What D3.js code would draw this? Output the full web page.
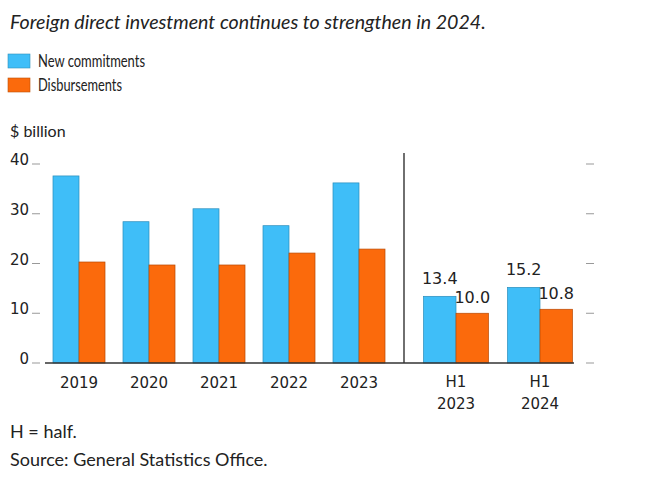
<!DOCTYPE html>
<html>
<head>
<meta charset="utf-8">
<style>
  html, body { margin: 0; padding: 0; background: #ffffff; }
  svg { display: block; font-family: Lato, "Open Sans", sans-serif; }
</style>
</head>
<body>
<div id="chart"></div>
<script src="https://cdn.jsdelivr.net/npm/d3@7"></script>
<script>
var width = 655, height = 492;

// data
var years = ["2019", "2020", "2021", "2022", "2023"];
var halves = ["H1 2023", "H1 2024"];
var commitYears = [37.6, 28.4, 31.0, 27.6, 36.2];
var disburseYears = [20.3, 19.7, 19.7, 22.1, 22.9];
var commitHalves = [13.4, 15.2];
var disburseHalves = [10.0, 10.8];
var yTicks = [0, 10, 20, 30, 40];

var blue = "#3fbef8", orange = "#fb6a0c";
var series = [
  {name: "New commitments", color: blue, len: 107},
  {name: "Disbursements", color: orange, len: 84}
];

var svg = d3.select("#chart").append("svg")
  .attr("width", width).attr("height", height);

var y = d3.scaleLinear().domain([0, 40]).range([363, 164]);

var xYear = d3.scaleBand().domain(years).range([44, 394])
  .paddingInner(0.257).paddingOuter(0.1285);
var xHalf = d3.scaleBand().domain(halves).range([413, 583])
  .paddingInner(0.226).paddingOuter(0.125);

// title
svg.append("text")
  .attr("x", 10).attr("y", 29)
  .style("font-style", "italic")
  .style("font-size", "19.6px")
  .attr("fill", "#222")
  .text("Foreign direct investment continues to strengthen in 2024.");

// legend
var leg = svg.append("g").selectAll("g").data(series).join("g")
  .attr("transform", (d, i) => "translate(8," + (54 + i * 24) + ")");
leg.append("rect").attr("width", 22).attr("height", 14)
  .attr("fill", d => d.color)
  .attr("stroke", d => d3.color(d.color).darker(0.8)).attr("stroke-width", 0.6);
leg.append("text").attr("x", 30).attr("y", 13)
  .style("font-size", "16.5px").attr("fill", "#222")
  .attr("textLength", d => d.len).attr("lengthAdjust", "spacingAndGlyphs")
  .text(d => d.name);

// unit label
svg.append("text").attr("x", 10).attr("y", 137)
  .style("font-size", "16px").attr("fill", "#222").text("$ billion");

// y ticks left and right
var tk = svg.append("g");
tk.selectAll("line.l").data(yTicks).join("line").attr("class", "l")
  .attr("x1", 32).attr("x2", 40)
  .attr("y1", d => y(d)).attr("y2", d => y(d))
  .attr("stroke", "#999").attr("stroke-width", 1);
tk.selectAll("line.r").data(yTicks).join("line").attr("class", "r")
  .attr("x1", 586).attr("x2", 594)
  .attr("y1", d => y(d)).attr("y2", d => y(d))
  .attr("stroke", "#999").attr("stroke-width", 1);
tk.selectAll("text").data(yTicks).join("text")
  .attr("x", 29).attr("y", d => y(d) + 1)
  .attr("text-anchor", "end")
  .style("font-family", "'DejaVu Sans', sans-serif")
  .style("font-size", "15px").attr("fill", "#222")
  .text(d => d);

function drawBars(x, cats, a, b) {
  var g = svg.append("g");
  var w = x.bandwidth() / 2;
  g.selectAll("rect.a").data(cats).join("rect").attr("class", "a")
    .attr("x", d => x(d)).attr("width", w)
    .attr("y", (d, i) => y(a[i])).attr("height", (d, i) => y(0) - y(a[i]))
    .attr("fill", blue).attr("stroke", "#2a8dbb").attr("stroke-width", 0.7);
  g.selectAll("rect.b").data(cats).join("rect").attr("class", "b")
    .attr("x", d => x(d) + w).attr("width", w)
    .attr("y", (d, i) => y(b[i])).attr("height", (d, i) => y(0) - y(b[i]))
    .attr("fill", orange).attr("stroke", "#b84a05").attr("stroke-width", 0.7);
  return g;
}

drawBars(xYear, years, commitYears, disburseYears);
var hg = drawBars(xHalf, halves, commitHalves, disburseHalves);

// value labels on the half-year bars
var hw = xHalf.bandwidth() / 2;
hg.selectAll("text.a").data(halves).join("text").attr("class", "a")
  .attr("x", d => xHalf(d) + hw / 2).attr("y", (d, i) => y(commitHalves[i]) - 12)
  .attr("text-anchor", "middle")
  .style("font-family", "'DejaVu Sans', sans-serif").style("font-size", "16px")
  .attr("fill", "#222").text((d, i) => commitHalves[i].toFixed(1));
hg.selectAll("text.b").data(halves).join("text").attr("class", "b")
  .attr("x", d => xHalf(d) + hw * 1.5).attr("y", (d, i) => y(disburseHalves[i]) - 10)
  .attr("text-anchor", "middle")
  .style("font-family", "'DejaVu Sans', sans-serif").style("font-size", "16px")
  .attr("fill", "#222").text((d, i) => disburseHalves[i].toFixed(1));

// baseline and divider
svg.append("line").attr("x1", 45).attr("x2", 574)
  .attr("y1", y(0)).attr("y2", y(0))
  .attr("stroke", "#333").attr("stroke-width", 1.6);
svg.append("line").attr("x1", 404).attr("x2", 404)
  .attr("y1", 153).attr("y2", y(0))
  .attr("stroke", "#333").attr("stroke-width", 1.4);

// x labels
svg.append("g").selectAll("text").data(years).join("text")
  .attr("x", d => xYear(d) + xYear.bandwidth() / 2).attr("y", 388)
  .attr("text-anchor", "middle")
  .style("font-family", "'DejaVu Sans', sans-serif").style("font-size", "15px")
  .attr("fill", "#222").text(d => d);
var hl = svg.append("g").selectAll("text").data(halves).join("text")
  .attr("x", d => xHalf(d) + xHalf.bandwidth() / 2)
  .attr("text-anchor", "middle")
  .style("font-family", "'DejaVu Sans', sans-serif").style("font-size", "15px")
  .attr("fill", "#222");
hl.append("tspan").attr("y", 387).attr("x", d => xHalf(d) + xHalf.bandwidth() / 2)
  .text(d => d.split(" ")[0]);
hl.append("tspan").attr("y", 409).attr("x", d => xHalf(d) + xHalf.bandwidth() / 2)
  .text(d => d.split(" ")[1]);

// notes
svg.append("text").attr("x", 10).attr("y", 438)
  .style("font-size", "18px").attr("fill", "#222").text("H = half.");
svg.append("text").attr("x", 10).attr("y", 466)
  .style("font-size", "18px").attr("fill", "#222").text("Source: General Statistics Office.");
</script>
</body>
</html>
